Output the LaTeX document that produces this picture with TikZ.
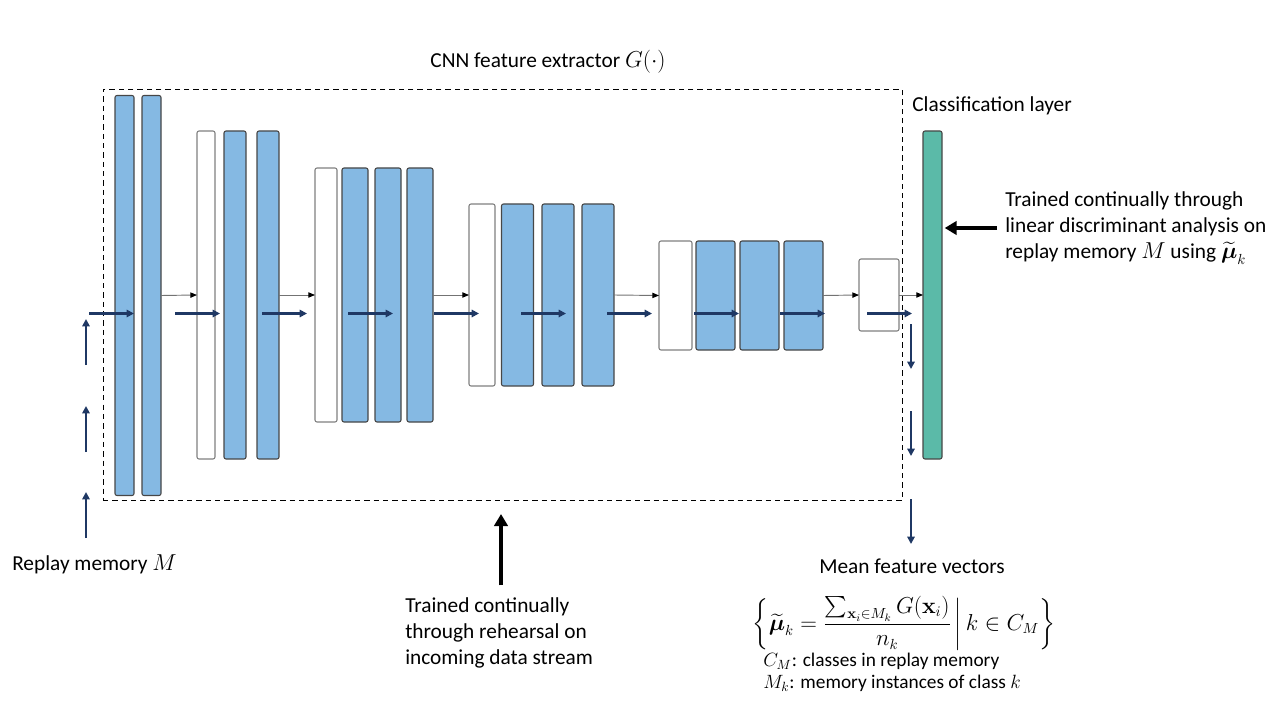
\documentclass[tikz,border=0pt]{standalone}
\usepackage{amssymb}
\usepackage{amsmath}
\usepackage{xcolor}
\usepackage[no-math]{fontspec}
\setmainfont{Carlito}
\usepackage{tikz}
\usetikzlibrary{arrows.meta}

\definecolor{barblue}{RGB}{133,185,227}
\definecolor{clsteal}{RGB}{91,186,168}
\definecolor{streamblue}{RGB}{31,56,100}
\def\pxu{0.75pt}

\begin{document}
\begin{tikzpicture}[x=0.75pt, y=-0.75pt,
        bar/.style={draw, rounded corners=1.5pt, line width=0.8pt, inner sep=0pt, outer sep=0pt},
        bluebar/.style={bar, draw=black!72, fill=barblue},
        gapbar/.style={bar, draw=black!50, fill=white},
        clsbar/.style={bar, draw=black!72, fill=clsteal},
        flow/.style={draw=black!55, line width=0.7pt, -{Triangle[length=5pt, width=4pt, color=black]}},
        stream/.style={draw=streamblue, line width=1.6pt, -{Triangle[length=5.5pt, width=5.5pt]}},
        bigarrow/.style={draw=black, line width=3pt, -{Triangle[length=9pt, width=10pt]}},
        txt/.style={inner sep=0pt, font=\fontsize{16}{19.5}\selectfont, align=left}]
    \useasboundingbox (0,0) rectangle (1280,720);

    % feature extractor frame
    \node[draw, dashed, dash pattern=on 4pt off 3pt, line width=0.6pt, inner sep=0pt,
        minimum width=799*\pxu, minimum height=411*\pxu] (cnn) at (502.5,295) {};

    % layers, stage by stage
    \foreach \x/\n in {124.5/s1a, 151.5/s1b}
        \node[bluebar, minimum width=19*\pxu, minimum height=400*\pxu] (\n) at (\x,295.5) {};
    \node[gapbar, minimum width=18*\pxu, minimum height=328*\pxu] (s2w) at (206,295) {};
    \foreach \x/\n in {235/s2a, 268/s2b}
        \node[bluebar, minimum width=22*\pxu, minimum height=328*\pxu] (\n) at (\x,295) {};
    \node[gapbar, minimum width=22*\pxu, minimum height=254*\pxu] (s3w) at (326,295) {};
    \foreach \x/\n in {355/s3a, 388/s3b, 420/s3c}
        \node[bluebar, minimum width=26*\pxu, minimum height=254*\pxu] (\n) at (\x,295) {};
    \node[gapbar, minimum width=26*\pxu, minimum height=182*\pxu] (s4w) at (482,295) {};
    \foreach \x/\n in {517.5/s4a, 558/s4b, 598/s4c}
        \node[bluebar, minimum width=32*\pxu, minimum height=182*\pxu] (\n) at (\x,295) {};
    \node[gapbar, minimum width=33*\pxu, minimum height=109*\pxu] (s5w) at (675.5,295.5) {};
    \foreach \x/\n in {715.5/s5a, 759.5/s5b, 803.5/s5c}
        \node[bluebar, minimum width=39*\pxu, minimum height=109*\pxu] (\n) at (\x,295.5) {};
    \node[gapbar, minimum width=40*\pxu, minimum height=72*\pxu] (s6w) at (879,295) {};
    \node[clsbar, minimum width=19*\pxu, minimum height=328*\pxu] (cls) at (932.5,295) {};

    \foreach \a/\b in {s1b/s2w, s2b/s3w, s3c/s4w, s4c/s5w, s5c/s6w, s6w/cls}
        \draw[flow] (\a.east) -- (\b.west);

    % replay stream
    \foreach \y in {365,452,538}
        \draw[stream] (86,\y) -- ++(0,-46);
    \foreach \x in {89,175,262,348,434,521,607,694,780,867}
        \draw[stream] (\x,313.5) -- ++(45,0);
    \foreach \y in {324,411,499}
        \draw[stream] (911,\y) -- ++(0,45);

    % labels
    \node[txt] (cnntitle) at (548,62) {CNN feature extractor $G(\cdot)$};
    \node[txt, anchor=west] (clstitle) at (912,106) {Classification layer};
    \node[txt, anchor=west] (lda) at (1005,228) {Trained continually through\\linear discriminant analysis on\\replay memory $M$ using $\widetilde{\boldsymbol{\mu}}_k$};
    \node[txt, anchor=west] (replay) at (12,564) {Replay memory $M$};
    \node[txt, anchor=west] (rehearsal) at (405,633) {Trained continually\\through rehearsal on\\incoming data stream};
    \node[txt] (meanvec) at (912,566) {Mean feature vectors};
    \node[txt] (mufml) at (904,623) {$\displaystyle\left\{\widetilde{\boldsymbol{\mu}}_k=\frac{\sum_{\mathbf{x}_i\in M_k}G(\mathbf{x}_i)}{n_k}\,\middle|\,k\in C_M\right\}$};
    \node[txt, anchor=west, font=\fontsize{14.5}{16.5}\selectfont] (legend) at (763,672) {$C_M$: classes in replay memory\\$M_k$: memory instances of class $k$};

    \coordinate (upend) at (501,514);
    \draw[bigarrow, shorten <=6pt, shorten >=2pt] (lda.west) -- (cls.east |- lda.west);
    \draw[bigarrow, shorten <=9pt] (upend |- rehearsal.north) -- (upend);
\end{tikzpicture}
\end{document}
